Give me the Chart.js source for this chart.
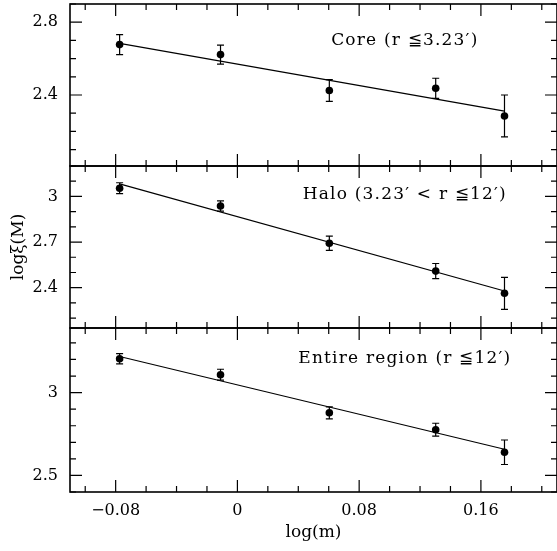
<!DOCTYPE html>
<html>
<head>
<meta charset="utf-8">
<script src="https://cdn.jsdelivr.net/npm/chart.js@4"></script>
<style>
html,body{margin:0;padding:0;background:#fff;overflow:hidden}
#wrap{position:relative;width:557px;height:551px;overflow:hidden}
#wrap canvas{position:absolute;left:0;top:0}
</style>
</head>
<body>
<div id="wrap">
  <canvas id="core" width="561" height="551"></canvas>
  <canvas id="halo" width="561" height="551"></canvas>
  <canvas id="all" width="561" height="551"></canvas>
</div>
<script>
// data
const logM = [-0.0774, -0.0111, 0.0604, 0.1303, 0.1755];

const coreVals = [2.677, 2.622, 2.425, 2.437, 2.285];
const coreErr  = [0.055, 0.052, 0.060, 0.055, 0.115];
const coreFit  = [2.684, 2.311];

const haloVals = [3.054, 2.937, 2.692, 2.509, 2.363];
const haloErr  = [0.036, 0.034, 0.047, 0.050, 0.105];
const haloFit  = [3.083, 2.378];

const allVals = [3.204, 3.108, 2.878, 2.776, 2.640];
const allErr  = [0.031, 0.033, 0.036, 0.039, 0.074];
const allFit  = [3.218, 2.658];

const xTicks = [-0.08, 0, 0.08, 0.16];
const coreTicks = [2.4, 2.8];
const haloTicks = [2.4, 2.7, 3];
const allTicks = [2.5, 3];

const coreLabel = "Core (r \u22663.23\u2032)";
const haloLabel = "Halo (3.23\u2032 < r \u226612\u2032)";
const allLabel = "Entire region (r \u226612\u2032)";

const X_MIN = -0.11, X_MAX = 0.21;
const FONT = "'DejaVu Serif', 'Liberation Serif', serif";

function fmt(v){ return String(+v.toFixed(2)).replace("-", "\u2212"); }
function near(a, b){ return Math.abs(a - b) < 1e-6; }

// frame, inward ticks on all four sides, error bars, panel label
const panelPlugin = {
  id: "panel",
  beforeDatasetsDraw(chart, args, o){
    const {ctx, scales: {x, y}} = chart;
    ctx.save();
    ctx.strokeStyle = "#000";
    ctx.lineWidth = 1.2;
    o.vals.forEach((v, i) => {
      const px = x.getPixelForValue(logM[i]);
      const yt = y.getPixelForValue(v + o.err[i]);
      const yb = y.getPixelForValue(v - o.err[i]);
      ctx.beginPath();
      ctx.moveTo(px, yt); ctx.lineTo(px, yb);
      ctx.moveTo(px - 3.5, yt); ctx.lineTo(px + 3.5, yt);
      ctx.moveTo(px - 3.5, yb); ctx.lineTo(px + 3.5, yb);
      ctx.stroke();
    });
    ctx.restore();
  },
  afterDatasetsDraw(chart, args, o){
    const {ctx, chartArea: a, scales: {x, y}} = chart;
    ctx.save();
    ctx.strokeStyle = "#000";
    ctx.lineWidth = 1.2;
    ctx.beginPath();
    // x ticks every 0.02, major every 0.08
    for (let k = -5; k <= 10; k++){
      const v = k * 0.02;
      const px = x.getPixelForValue(v);
      const len = xTicks.some(t => near(t, v)) ? 12 : 6;
      ctx.moveTo(px, a.bottom); ctx.lineTo(px, a.bottom - len);
      ctx.moveTo(px, a.top); ctx.lineTo(px, a.top + len);
    }
    // y ticks every 0.1
    for (let k = Math.ceil(y.min * 10 - 1e-6); k <= Math.floor(y.max * 10 + 1e-6); k++){
      const v = k / 10;
      const py = y.getPixelForValue(v);
      const len = o.ticks.some(t => near(t, v)) ? 12 : 6;
      ctx.moveTo(a.left, py); ctx.lineTo(a.left + len, py);
      ctx.moveTo(a.right, py); ctx.lineTo(a.right - len, py);
    }
    ctx.stroke();
    ctx.lineWidth = 1.6;
    ctx.strokeRect(a.left, a.top, a.right - a.left, a.bottom - a.top);
    // label
    ctx.fillStyle = "#000";
    ctx.font = "17px " + FONT;
    ctx.letterSpacing = "1.2px";
    ctx.textAlign = "center";
    ctx.textBaseline = "middle";
    ctx.fillText(o.label, x.getPixelForValue(o.labelPos[0]), y.getPixelForValue(o.labelPos[1]));
    ctx.restore();
  }
};

function makePanel(id, vals, err, fit, ticks, yMin, yMax, pad, label, labelPos, opts){
  const xAxis = {
    type: "linear", min: X_MIN, max: X_MAX, display: false
  };
  if (opts.showX){
    Object.assign(xAxis, {
      display: true,
      grid: {display: false, drawTicks: false},
      border: {display: false},
      afterBuildTicks: s => { s.ticks = xTicks.map(v => ({value: v})); },
      afterFit: s => { s.height = pad.xh; s.paddingLeft = 0; s.paddingRight = 0; },
      ticks: {padding: 9, color: "#000", font: {family: FONT, size: 16}, maxRotation: 0, autoSkip: false, callback: v => fmt(v)},
      title: {display: true, text: "log(m)", color: "#000", font: {family: FONT, size: 17}, padding: {top: 0, bottom: 8}}
    });
  }
  return new Chart(document.getElementById(id), {
    data: {
      datasets: [
        {type: "line", data: [{x: logM[0], y: fit[0]}, {x: logM[4], y: fit[1]}], borderColor: "#000", borderWidth: 1.2, pointRadius: 0, fill: false},
        {type: "scatter", data: logM.map((m, i) => ({x: m, y: vals[i]})), backgroundColor: "#000", borderColor: "#000", pointRadius: 3.8, borderWidth: 0}
      ]
    },
    options: {
      responsive: false,
      animation: false,
      devicePixelRatio: 1,
      events: [],
      layout: {padding: {top: pad.top, bottom: pad.bottom, left: 0, right: 2}},
      plugins: {
        legend: {display: false},
        tooltip: {enabled: false},
        panel: {vals, err, ticks, label, labelPos}
      },
      scales: {
        x: xAxis,
        y: {
          type: "linear", min: yMin, max: yMax,
          grid: {display: false, drawTicks: false},
          border: {display: false},
          afterBuildTicks: s => { s.ticks = ticks.map(v => ({value: v})); },
          afterFit: s => { s.width = 70; s.paddingTop = 0; s.paddingBottom = 0; },
          ticks: {padding: 12, color: "#000", font: {family: FONT, size: 16}, callback: v => fmt(v)},
          title: {display: !!opts.yTitle, text: opts.yTitle || "", color: "#000", font: {family: FONT, size: 17}, padding: {top: 8, bottom: 0}}
        }
      }
    },
    plugins: [panelPlugin]
  });
}

makePanel("core", coreVals, coreErr, coreFit, coreTicks, 2.01, 2.9,
  {top: 3, bottom: 551 - 166}, coreLabel, [0.11, 2.70], {});
makePanel("halo", haloVals, haloErr, haloFit, haloTicks, 2.135, 3.2,
  {top: 166, bottom: 551 - 328}, haloLabel, [0.11, 3.01], {yTitle: "log\u03be(M)"});
makePanel("all", allVals, allErr, allFit, allTicks, 2.4, 3.39,
  {top: 328, bottom: 0, xh: 59}, allLabel, [0.11, 3.203], {showX: true});
</script>
</body>
</html>
